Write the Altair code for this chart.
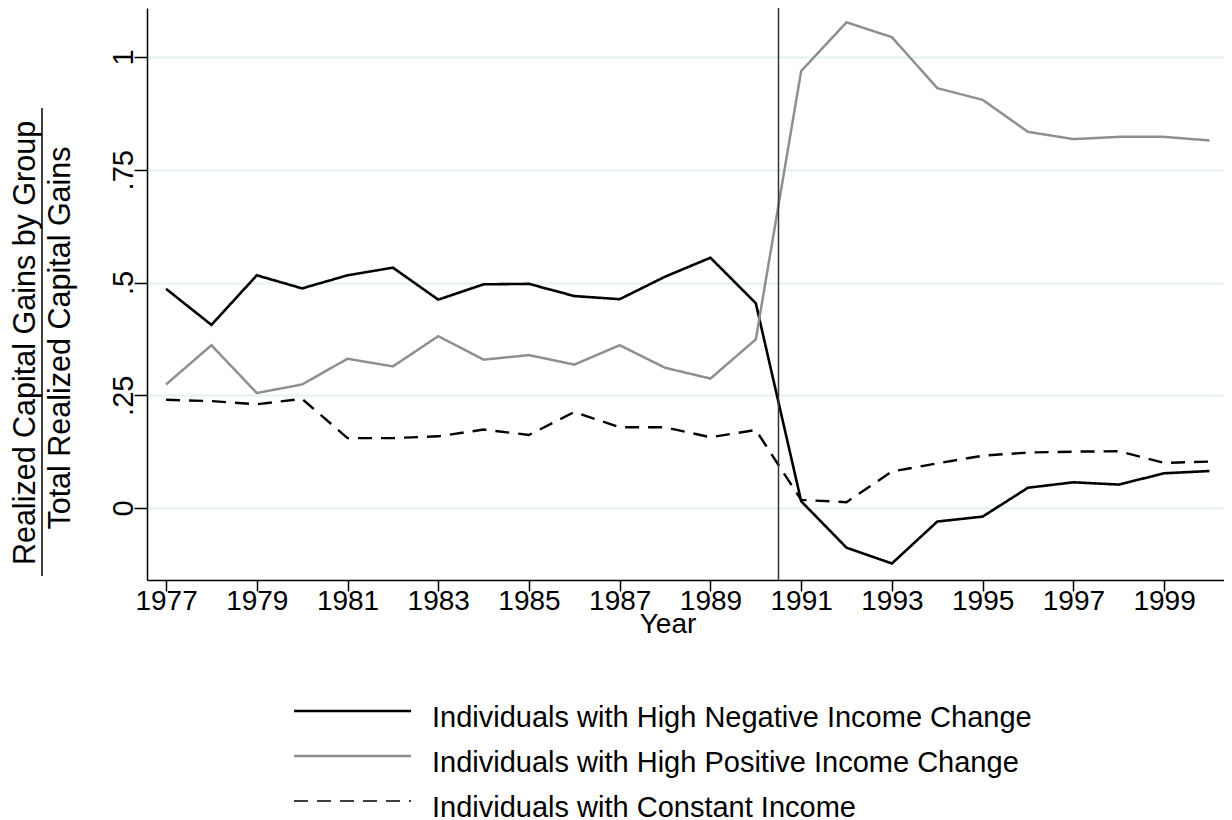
import altair as alt
import pandas as pd

years = list(range(1977, 2001))
neg_change = [0.486, 0.406, 0.516, 0.487, 0.516, 0.533, 0.462, 0.496, 0.497, 0.470, 0.463, 0.513,
              0.555, 0.454, 0.015, -0.088, -0.123, -0.030, -0.019, 0.045, 0.057, 0.052, 0.077, 0.082]
pos_change = [0.274, 0.361, 0.255, 0.274, 0.331, 0.314, 0.381, 0.329, 0.339, 0.318, 0.361, 0.311,
              0.287, 0.374, 0.969, 1.077, 1.044, 0.931, 0.905, 0.834, 0.818, 0.823, 0.823, 0.815]
const_income = [0.240, 0.237, 0.230, 0.242, 0.155, 0.155, 0.159, 0.174, 0.162, 0.213, 0.179, 0.179,
                0.157, 0.173, 0.018, 0.013, 0.081, 0.099, 0.116, 0.123, 0.125, 0.126, 0.100, 0.103]

series_names = ["Individuals with High Negative Income Change",
                "Individuals with High Positive Income Change",
                "Individuals with Constant Income"]
series_colors = ["#000000", "#8f8f8f", "#000000"]
series_dash = [[1, 0], [1, 0], [14, 9]]
series_width = [2.6, 2.4, 1.5]

x_ticks = list(range(1977, 2000, 2))
y_ticks = [0, 0.25, 0.5, 0.75, 1]
y_tick_labels = ["0", ".25", ".5", ".75", "1"]
break_year = [1990.5]

title_line1 = "Realized Capital Gains by Group"
title_line2 = "Total Realized Capital Gains"
x_title = "Year"

FONT = "Liberation Sans, Arial, Helvetica, sans-serif"
NARROW = "Liberation Sans Narrow, Arial Narrow, Liberation Sans, sans-serif"

rows = []
for name, vals in zip(series_names, [neg_change, pos_change, const_income]):
    for yr, v in zip(years, vals):
        rows.append({"year": yr, "value": v, "series": name})
df = pd.DataFrame(rows)

xscale = alt.Scale(domain=[1976.58, 2000.32], nice=False, zero=False)
yscale = alt.Scale(domain=[-0.1596, 1.1087], nice=False, zero=False)

label_expr = " : ".join(
    [f"datum.value == {v} ? '{l}'" for v, l in zip(y_ticks, y_tick_labels)]) + " : ''"

base = alt.Chart(df)

lines = base.mark_line(strokeJoin="miter").encode(
    x=alt.X("year:Q", scale=xscale,
            axis=alt.Axis(values=x_ticks, format="d", title=None, grid=False,
                          labelFontSize=28, labelFont=NARROW, labelColor="#000",
                          tickSize=11, tickColor="#000", tickWidth=1.5,
                          domainColor="#000", domainWidth=1.5, labelPadding=-4,
                          labelFlush=False, labelOverlap=False)),
    y=alt.Y("value:Q", scale=yscale,
            axis=alt.Axis(values=y_ticks, labelExpr=label_expr, title=None,
                          grid=True, gridColor="#e6eff1", gridWidth=2,
                          labelAngle=270, labelAlign="center", labelBaseline="alphabetic",
                          labelFontSize=29, labelFont=FONT, labelColor="#000",
                          tickSize=13, tickColor="#000", tickWidth=1.5,
                          domainColor="#000", domainWidth=1.5, labelPadding=2,
                          labelFlush=False, labelOverlap=False)),
    color=alt.Color("series:N", scale=alt.Scale(domain=series_names, range=series_colors), legend=None),
    strokeDash=alt.StrokeDash("series:N", scale=alt.Scale(domain=series_names, range=series_dash), legend=None),
    strokeWidth=alt.StrokeWidth("series:N", scale=alt.Scale(domain=series_names, range=series_width), legend=None),
    order=alt.Order("year:Q"),
)

vline = alt.Chart(pd.DataFrame({"year": break_year})).mark_rule(color="#333333", strokeWidth=1.5).encode(
    x=alt.X("year:Q", scale=xscale)
)

layers = [lines, vline]

# y-axis title as a fraction
layers.append(alt.Chart(pd.DataFrame({"t": [title_line1]})).mark_text(
    angle=270, align="center", baseline="middle", font=FONT, fontSize=30.5, color="#000"
).encode(x=alt.value(-121), y=alt.value(335), text="t:N"))
layers.append(alt.Chart(pd.DataFrame({"t": [title_line2]})).mark_text(
    angle=270, align="center", baseline="middle", font=FONT, fontSize=30.5, color="#000"
).encode(x=alt.value(-86), y=alt.value(330), text="t:N"))
layers.append(alt.Chart(pd.DataFrame({"t": [0]})).mark_rule(color="#000", strokeWidth=1.5).encode(
    x=alt.value(-105), y=alt.value(100), y2=alt.value(568)))

# x-axis title
layers.append(alt.Chart(pd.DataFrame({"t": [x_title]})).mark_text(
    align="center", baseline="alphabetic", font=NARROW, fontSize=28, color="#000"
).encode(x=alt.value(521), y=alt.value(625), text="t:N"))

# manual legend
for i, name in enumerate(series_names):
    ly = 703 + 45 * i
    ldf = pd.DataFrame({"t": [name]})
    layers.append(alt.Chart(ldf).mark_rule(
        color=series_colors[i], strokeWidth=series_width[i], strokeDash=series_dash[i]
    ).encode(x=alt.value(147), x2=alt.value(264), y=alt.value(ly)))
    layers.append(alt.Chart(ldf).mark_text(
        align="left", baseline="alphabetic", font=FONT, fontSize=29, color="#000"
    ).encode(x=alt.value(285), y=alt.value(ly + 16), text="t:N"))

chart = alt.layer(*layers).properties(
    width=1077, height=572,
    autosize=alt.AutoSizeParams(type="none"),
    padding={"left": 139, "top": 0, "right": 0, "bottom": 240},
    background="white",
).configure_view(stroke=None)

chart.save("out.html", embed_options={"renderer": "svg", "actions": False})
